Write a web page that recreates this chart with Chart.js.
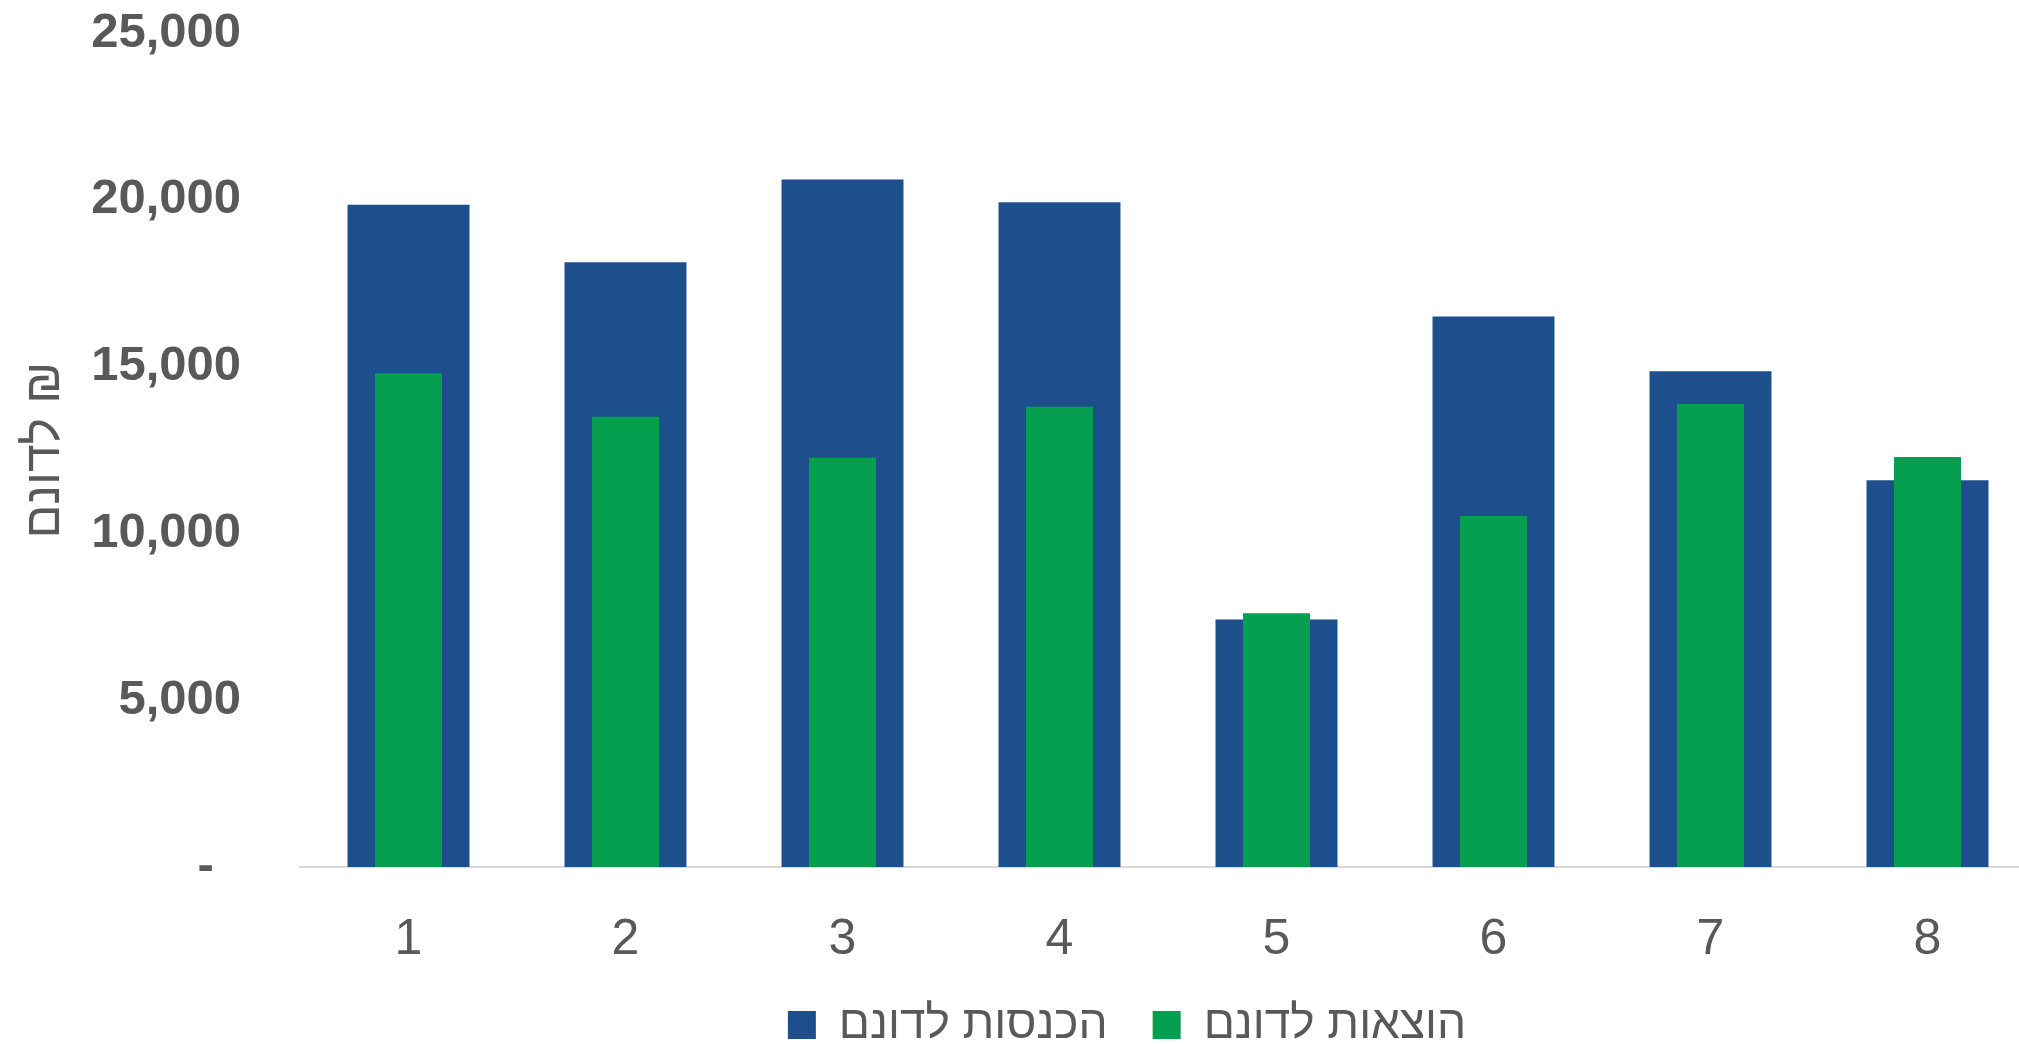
<!DOCTYPE html>
<html>
<head>
<meta charset="utf-8">
<script src="https://cdn.jsdelivr.net/npm/chart.js@4"></script>
<style>
  html, body { margin: 0; padding: 0; overflow: hidden; background: #ffffff; }
  #wrap { width: 2233px; height: 1058px; }
</style>
</head>
<body>
<div id="wrap"><canvas id="c" width="2233" height="1058"></canvas></div>
<script>
const categories = ['1', '2', '3', '4', '5', '6', '7', '8'];
const incomeLabel = 'הכנסות לדונם';
const expenseLabel = 'הוצאות לדונם';
const incomePerDunam = [19850, 18130, 20610, 19930, 7420, 16500, 14860, 11590];
const expensePerDunam = [14800, 13500, 12270, 13800, 7610, 10520, 13880, 12290];
const yTicks = [0, 5000, 10000, 15000, 20000, 25000];
const yTitle = 'לדונם ₪';

const textColor = '#595959';
const regular = '"Liberation Sans", Arial, sans-serif';

const chart = new Chart(document.getElementById('c'), {
  type: 'bar',
  data: {
    labels: categories,
    datasets: [
      { label: expenseLabel, data: expensePerDunam, backgroundColor: '#069e4f', grouped: false, categoryPercentage: 1, barPercentage: 0.309 },
      { label: incomeLabel, data: incomePerDunam, backgroundColor: '#1d4f8c', grouped: false, categoryPercentage: 1, barPercentage: 0.562 }
    ]
  },
  options: {
    responsive: false,
    animation: false,
    devicePixelRatio: 1,
    layout: { padding: { left: 21, right: 0, top: 33, bottom: 0 } },
    plugins: {
      tooltip: { enabled: false },
      legend: {
        position: 'bottom',
        reverse: true,
        labels: { boxWidth: 28, boxHeight: 28, padding: 45, color: textColor, font: { family: regular, size: 46 } }
      }
    },
    scales: {
      x: {
        grid: { display: false, drawTicks: false },
        border: { display: true, color: '#d9d9d9', width: 2 },
        ticks: { color: textColor, padding: 43, font: { family: regular, size: 50 } },
        afterFit: (scale) => { scale.height = 90; }
      },
      y: {
        min: 0, max: 25000,
        afterBuildTicks: (scale) => { scale.ticks = yTicks.map(v => ({ value: v })); },
        afterFit: (scale) => { scale.width = 279; scale.paddingTop = 0; scale.paddingBottom = 0; },
        grid: { display: false, drawTicks: false },
        border: { display: false },
        ticks: {
          color: textColor, padding: 59,
          font: { family: regular, size: 49, weight: 'bold' },
          callback: (v) => v === 0 ? '-  ' : v.toLocaleString('en-US')
        },
        title: { display: true, text: yTitle, color: textColor, padding: { top: -6, bottom: 0 }, font: { family: regular, size: 50 } }
      },
      yRight: {
        type: 'linear',
        axis: 'y',
        position: 'right',
        min: 0, max: 25000,
        grid: { display: false, drawTicks: false },
        border: { display: false },
        ticks: { display: false },
        afterFit: (scale) => { scale.width = 197; scale.paddingTop = 0; scale.paddingBottom = 0; }
      }
    }
  }
});
</script>
</body>
</html>
